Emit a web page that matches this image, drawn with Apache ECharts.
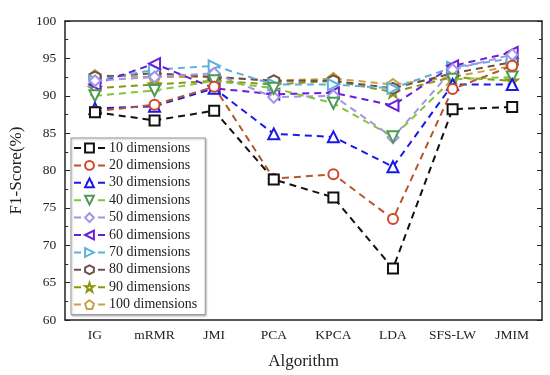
<!DOCTYPE html>
<html>
<head>
<meta charset="utf-8">
<script src="https://cdn.jsdelivr.net/npm/echarts@6/dist/echarts.min.js"></script>
<style>html,body{margin:0;padding:0;background:#fff}#c{width:550px;height:375px}</style>
</head>
<body>
<div id="c"></div>
<script>
const categories = ['IG','mRMR','JMI','PCA','KPCA','LDA','SFS-LW','JMIM'];
const seriesNames = ['10 dimensions','20 dimensions','30 dimensions','40 dimensions','50 dimensions','60 dimensions','70 dimensions','80 dimensions','90 dimensions','100 dimensions'];
const d10  = [87.8, 86.7, 88.0, 78.8, 76.4, 66.9, 88.2, 88.5];
const d20  = [87.9, 88.8, 91.2, 78.9, 79.5, 73.5, 90.9, 94.0];
const d30  = [88.3, 88.6, 91.0, 84.9, 84.5, 80.5, 91.5, 91.5];
const d40  = [90.0, 90.7, 92.0, 91.0, 89.0, 84.5, 92.2, 92.5];
const d50  = [92.0, 92.5, 93.0, 89.8, 90.0, 84.4, 93.5, 95.5];
const d60  = [91.5, 94.3, 91.0, 90.2, 90.4, 88.7, 94.0, 95.8];
const d70  = [92.0, 93.5, 94.0, 91.5, 91.5, 91.0, 93.8, 95.0];
const d80  = [92.5, 93.0, 92.5, 92.0, 92.0, 91.0, 93.0, 94.5];
const d90  = [91.0, 91.5, 92.0, 91.5, 92.0, 90.5, 92.5, 92.0];
const d100 = [92.7, 92.5, 92.5, 92.0, 92.3, 91.5, 92.5, 94.0];
const allData = [d10,d20,d30,d40,d50,d60,d70,d80,d90,d100];

const lineColors   = ['#111111','#b4582c','#1a1ae6','#86c23c','#a394e6','#6a1fd6','#5db0da','#6e4f4a','#8a9810','#c9a042'];
const markerColors = ['#111111','#d2452a','#1a1ae6','#4f9a55','#a394e6','#6a1fd6','#5db0da','#6e4f4a','#8a9810','#c9a042'];
const hex = 'path://M50,0 L93.3,25 L93.3,75 L50,100 L6.7,75 L6.7,25 Z';
const star = 'path://M50,0 L61.8,35.4 L97.6,34.5 L69,56.9 L79.4,90.5 L50,70 L20.6,90.5 L31,56.9 L2.4,34.5 L38.2,35.4 Z';
const pent = 'path://M50,0 L97.6,34.5 L79.4,90.5 L20.6,90.5 L2.4,34.5 Z';
const symbols = ['rect','circle','triangle','triangle','diamond','triangle','triangle',hex,star,pent];
const rotates = [0,0,0,180,0,90,-90,0,0,0];
const sizes = [10,10,11,11,11,11,11,11,11,11];

const series = seriesNames.map((n,i)=>({
  name:n, type:'line', data:allData[i],
  symbol:symbols[i], symbolRotate:rotates[i], symbolSize:sizes[i],
  lineStyle:{color:lineColors[i], width:2, type:[7,5]},
  itemStyle:{color:'#fff', borderColor:markerColors[i], borderWidth:2},
  z: 10 - i
}));

const font = 'Liberation Serif';
const chart = echarts.init(document.getElementById('c'));
chart.setOption({
  backgroundColor:'#fff',
  animation:false,
  textStyle:{fontFamily:font},
  grid:{left:61, right:8, top:21, bottom:52},
  legend:{
    orient:'vertical', left:71, top:138,
    data:seriesNames,
    itemWidth:31, itemHeight:11, itemGap:3.4,
    backgroundColor:'#fff', borderColor:'#999', borderWidth:1,
    padding:[3,8,3,2],
    shadowColor:'rgba(0,0,0,0.25)', shadowBlur:2, shadowOffsetX:1, shadowOffsetY:1,
    textStyle:{fontFamily:font, fontSize:14, color:'#222', padding:[0,0,0,-1]}
  },
  xAxis:[{
    type:'category', data:categories, boundaryGap:true,
    name:'Algorithm', nameLocation:'middle', nameGap:33,
    nameTextStyle:{fontFamily:font, fontSize:17, color:'#222'},
    axisLine:{lineStyle:{color:'#222', width:1.5}},
    axisTick:{inside:true, alignWithLabel:true, length:5, lineStyle:{color:'#222'}},
    axisLabel:{fontFamily:font, fontSize:13.5, color:'#222', margin:8, interval:0},
    splitLine:{show:false}
  },{
    type:'category', data:categories, position:'top', boundaryGap:true,
    axisLine:{lineStyle:{color:'#222', width:1.5}},
    axisTick:{inside:true, alignWithLabel:true, length:5, lineStyle:{color:'#222'}},
    axisLabel:{show:false}, splitLine:{show:false}
  }],
  yAxis:[{
    type:'value', min:60, max:100, interval:5,
    name:'F1-Score(%)', nameLocation:'middle', nameGap:24,
    nameTextStyle:{fontFamily:font, fontSize:17, color:'#222'},
    axisLine:{show:true, lineStyle:{color:'#222', width:1.5}},
    axisTick:{show:true, inside:true, length:5, lineStyle:{color:'#222'}},
    minorTick:{show:true, splitNumber:2, length:3, lineStyle:{color:'#222'}},
    axisLabel:{fontFamily:font, fontSize:13.5, color:'#222', margin:9},
    splitLine:{show:false}
  },{
    type:'value', min:60, max:100, interval:5, position:'right',
    axisLine:{show:true, lineStyle:{color:'#222', width:1.5}},
    axisTick:{show:true, inside:true, length:5, lineStyle:{color:'#222'}},
    minorTick:{show:true, splitNumber:2, length:3, lineStyle:{color:'#222'}},
    axisLabel:{show:false}, splitLine:{show:false}
  }],
  series:series
});
</script>
</body>
</html>
